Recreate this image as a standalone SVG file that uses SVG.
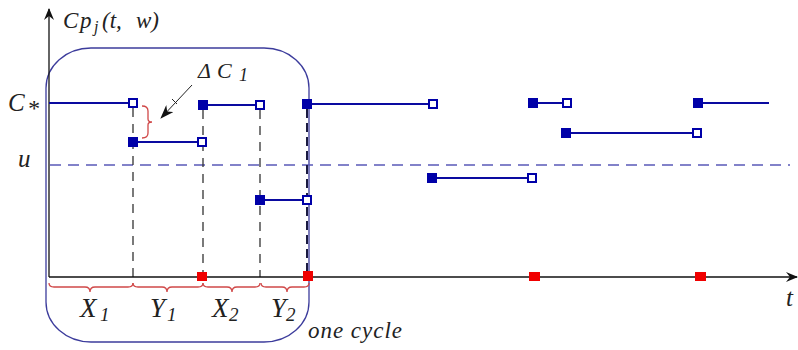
<svg xmlns="http://www.w3.org/2000/svg" width="798" height="350" viewBox="0 0 798 350">
<style>
.lab{font-family:'Liberation Serif',serif;font-style:italic;fill:#222}
.seg{stroke:#0a0aa0;stroke-width:2;fill:none}
.fill{fill:#0000a8}
.open{fill:#fff;stroke:#0000a8;stroke-width:2}
.red{fill:#f00000}
.vd{stroke:#333;stroke-width:1.3;stroke-dasharray:9,7;fill:none}
.brace{stroke:#d04848;stroke-width:1.3;fill:none}
</style>
<defs>
<marker id="ax" viewBox="0 0 12 10" refX="11" refY="5" markerWidth="12" markerHeight="10" markerUnits="userSpaceOnUse" orient="auto">
<path d="M0,0 L12,5 L0,10 L4,5 z" fill="#111"/>
</marker>
<marker id="ar" viewBox="0 0 14 10" refX="13" refY="5" markerWidth="14" markerHeight="10" markerUnits="userSpaceOnUse" orient="auto">
<path d="M0,0 L14,5 L0,10 L4,5 z" fill="#111"/>
</marker>
</defs>
<rect width="798" height="350" fill="#fff"/>

<g id="cycle-box">
<rect x="46" y="48" width="263" height="294" rx="45" ry="40" fill="none" stroke="#3c3c9c" stroke-width="1.3"/>
</g>

<g id="threshold-u">
<line x1="50" y1="165" x2="790" y2="165" stroke="#5a5ab8" stroke-width="1.3" stroke-dasharray="11,7"/>
</g>

<g id="connectors">
<line class="vd" x1="133" y1="108" x2="133" y2="277"/>
<line class="vd" x1="203" y1="110" x2="203" y2="277"/>
<line class="vd" x1="260" y1="110" x2="260" y2="277"/>
<line x1="307" y1="109" x2="307" y2="277" stroke="#1a1a40" stroke-width="2" stroke-dasharray="9,5"/>
<line x1="192" y1="85" x2="161" y2="118" stroke="#222" stroke-width="1" marker-end="url(#ar)"/>
<line x1="172" y1="99" x2="177" y2="104" stroke="#222" stroke-width="1"/>
</g>

<g id="axes">
<line x1="49" y1="277" x2="49" y2="9" stroke="#111" stroke-width="1.3" marker-end="url(#ax)"/>
<line x1="49" y1="277" x2="797" y2="277" stroke="#111" stroke-width="1.3" marker-end="url(#ax)"/>
</g>

<g id="segments">
<line class="seg" x1="49" y1="103" x2="133" y2="103"/>
<line class="seg" x1="133" y1="142" x2="202" y2="142"/>
<line class="seg" x1="203" y1="105" x2="260" y2="105"/>
<line class="seg" x1="260" y1="200" x2="307" y2="200"/>
<line class="seg" x1="307" y1="104" x2="433" y2="104"/>
<line class="seg" x1="432" y1="178" x2="532" y2="178"/>
<line class="seg" x1="533" y1="103" x2="567" y2="103"/>
<line class="seg" x1="566" y1="133" x2="697" y2="133"/>
<line class="seg" x1="698" y1="103" x2="769" y2="103"/>
</g>

<g id="points">
<rect class="open" x="129" y="99" width="8" height="8"/>
<rect class="fill" x="128" y="137" width="10" height="10"/>
<rect class="open" x="198" y="138" width="8" height="8"/>
<rect class="fill" x="198" y="100" width="10" height="10"/>
<rect class="open" x="256" y="101" width="8" height="8"/>
<rect class="fill" x="255" y="195" width="10" height="10"/>
<rect class="open" x="303" y="196" width="8" height="8"/>
<rect class="fill" x="302" y="99" width="10" height="10"/>
<rect class="open" x="429" y="100" width="8" height="8"/>
<rect class="fill" x="427" y="173" width="10" height="10"/>
<rect class="open" x="528" y="174" width="8" height="8"/>
<rect class="fill" x="528" y="98" width="10" height="10"/>
<rect class="open" x="563" y="99" width="8" height="8"/>
<rect class="fill" x="561" y="128" width="10" height="10"/>
<rect class="open" x="693" y="129" width="8" height="8"/>
<rect class="fill" x="693" y="98" width="10" height="10"/>
</g>

<g id="renewals">
<rect class="red" x="197" y="272" width="10" height="9"/>
<rect class="red" x="303" y="271" width="10" height="10"/>
<rect class="red" x="529" y="272" width="11" height="9"/>
<rect class="red" x="695" y="272" width="11" height="9"/>
</g>

<g id="braces">
<path class="brace" d="M142,106 q6,0 6,5 v8 q0,3 4,3 q-4,0 -4,3 v8 q0,5 -6,5"/>
<path class="brace" d="M49,283 q0,4 5,4 H85 q5,0 5,5 q0,-5 5,-5 H128 q5,0 5,-4"/>
<path class="brace" d="M133,283 q0,4 5,4 H162 q5,0 5,5 q0,-5 5,-5 H198 q5,0 5,-4"/>
<path class="brace" d="M203,283 q0,4 5,4 H227 q5,0 5,5 q0,-5 5,-5 H255 q5,0 5,-4"/>
<path class="brace" d="M261,283 q0,4 5,4 H282 q5,0 5,5 q0,-5 5,-5 H304 q5,0 5,-4"/>
</g>

<g id="labels">
<text class="lab" font-size="23" y="28"><tspan x="63">C</tspan><tspan x="80">p</tspan><tspan x="94" dy="4" font-size="16">j</tspan><tspan x="102" dy="-4">(t,</tspan><tspan x="136">w)</tspan></text>
<text class="lab" font-size="25" x="8" y="111">C</text>
<text class="lab" font-size="24" font-style="normal" x="27" y="116">*</text>
<text class="lab" font-size="25" x="18" y="167">u</text>
<text class="lab" font-size="22" y="78"><tspan x="198">Δ</tspan><tspan x="217">C</tspan><tspan x="239" dy="3" font-size="18">1</tspan></text>
<text class="lab" font-size="27" y="317"><tspan x="80">X</tspan><tspan x="100" dy="4" font-size="19">1</tspan></text>
<text class="lab" font-size="27" y="317"><tspan x="150">Y</tspan><tspan x="167" dy="4" font-size="19">1</tspan></text>
<text class="lab" font-size="27" y="317"><tspan x="212">X</tspan><tspan x="229" dy="4" font-size="19">2</tspan></text>
<text class="lab" font-size="27" y="317"><tspan x="271">Y</tspan><tspan x="286" dy="4" font-size="19">2</tspan></text>
<text class="lab" font-size="23" x="308" y="338" textLength="94">one cycle</text>
<text class="lab" font-size="25" x="786" y="306">t</text>
</g>
</svg>
